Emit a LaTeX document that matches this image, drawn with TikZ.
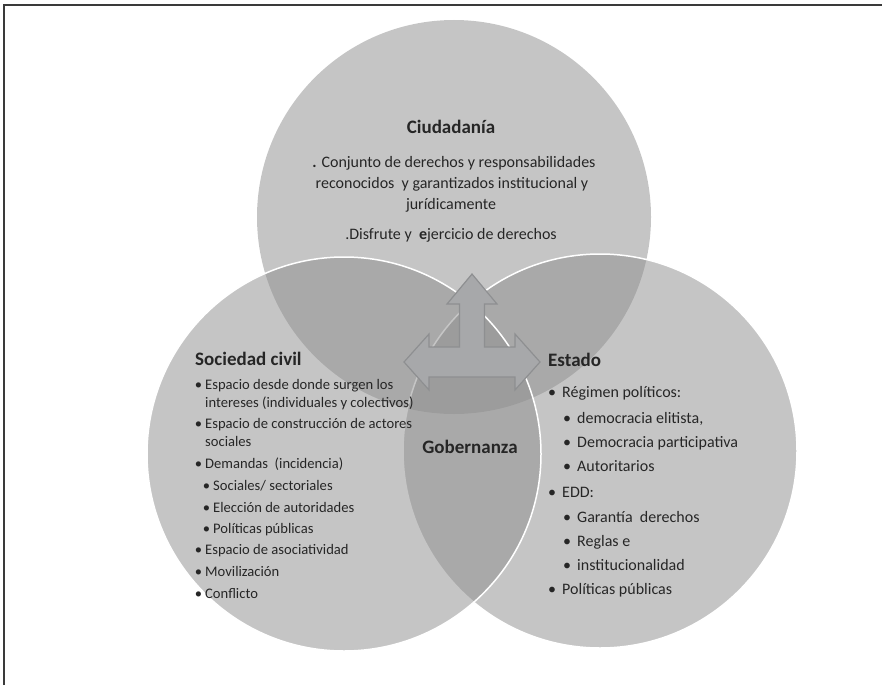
\documentclass[tikz,border=0pt]{standalone}
\usepackage{fontspec}
\setmainfont{Carlito}
\usepackage{xcolor}
\usepackage{tikz}
\usetikzlibrary{positioning}

\definecolor{circulo}{gray}{0.56}
\definecolor{texto}{HTML}{262626}
\definecolor{flecha}{HTML}{A7A8AA}
\definecolor{flechaborde}{HTML}{8E8F91}
\definecolor{marco}{HTML}{3A3A3A}

\newcommand{\vineta}[1]{\llap{\textbullet\hspace{#1}}}

\tikzset{
  conjunto/.style={circle, minimum size=394pt, inner sep=0pt, fill=circulo, fill opacity=0.515},
  titulo/.style={font=\bfseries\fontsize{19}{23}\selectfont, text=texto, inner sep=0pt},
  linea/.style={font=\fontsize{16}{20}\selectfont, text=texto, inner sep=0pt, text height=11pt, text depth=3pt},
  itemsoc/.style={font=\fontsize{14.6}{17}\selectfont, text=texto, inner sep=0pt, anchor=west, text height=10pt, text depth=3pt},
  itemest/.style={font=\fontsize{16}{19}\selectfont, text=texto, inner sep=0pt, anchor=west, text height=11pt, text depth=3pt}
}

\begin{document}
\begin{tikzpicture}[x=1pt, y=-1pt]
    \useasboundingbox (0,0) rectangle (882,685);
    % Frame
    \draw[marco, line width=2pt] (4,685) -- (4,5) -- (882,5);

    % The three sets
    \node[conjunto] (ciud) at (454,217) {};
    \node[conjunto, draw=white, draw opacity=1, line width=1.5pt] (est) at (600,451) {};
    \node[conjunto, draw=white, draw opacity=1, line width=1.5pt] (soc) at (344,454) {};

    % Three-way arrow
    \filldraw[fill=flecha, draw=flechaborde, line width=1.2pt, line join=miter]
        (472,274) -- (497,304) -- (484.5,304) -- (484.5,347) -- (515,347) -- (515,334)
        -- (540,362) -- (515,390) -- (515,377) -- (429,377) -- (429,390)
        -- (404,362) -- (429,334) -- (429,347) -- (459.5,347) -- (459.5,304)
        -- (447,304) -- cycle;

    % Ciudadania
    \node[titulo] (tciud) at (451,127) {Ciudadanía};
    \node[linea] (c1) at (454,163) {\textbf{.} Conjunto de derechos y responsabilidades};
    \node[linea] (c2) at (452,184) {reconocidos \ y garantizados institucional y};
    \node[linea] (c3) at (451,205) {jurídicamente};
    \node[linea] (c4) at (451,235) {.Disfrute y \ \textbf{e}jercicio de derechos};

    % Sociedad civil
    \node[titulo, anchor=west] (tsoc) at (195,359) {Sociedad civil};
    \node[itemsoc] (s1) at (205,386) {\vineta{3pt}Espacio desde donde surgen los};
    \node[itemsoc] (s2) at (205,404) {intereses (individuales y colectivos)};
    \node[itemsoc] (s3) at (205,425) {\vineta{3pt}Espacio de construcción de actores};
    \node[itemsoc] (s4) at (205,443) {sociales};
    \node[itemsoc] (s5) at (205,465) {\vineta{3pt}Demandas \ (incidencia)};
    \node[itemsoc] (s6) at (213,487) {\vineta{3pt}Sociales/ sectoriales};
    \node[itemsoc] (s7) at (213,509) {\vineta{3pt}Elección de autoridades};
    \node[itemsoc] (s8) at (213,530) {\vineta{3pt}Políticas públicas};
    \node[itemsoc] (s9) at (205,551) {\vineta{3pt}Espacio de asociatividad};
    \node[itemsoc] (s10) at (205,573) {\vineta{3pt}Movilización};
    \node[itemsoc] (s11) at (205,595) {\vineta{3pt}Conflicto};

    % Estado
    \node[titulo, anchor=west] (test) at (548,360) {Estado};
    \node[itemest] (e1) at (562,393) {\vineta{6pt}Régimen políticos:};
    \node[itemest] (e2) at (577,419) {\vineta{6pt}democracia elitista,};
    \node[itemest] (e3) at (577,443) {\vineta{6pt}Democracia participativa};
    \node[itemest] (e4) at (577,467) {\vineta{6pt}Autoritarios};
    \node[itemest] (e5) at (562,493) {\vineta{6pt}EDD:};
    \node[itemest] (e6) at (577,518) {\vineta{6pt}Garantía \ derechos};
    \node[itemest] (e7) at (577,542) {\vineta{6pt}Reglas e};
    \node[itemest] (e8) at (577,566) {\vineta{6pt}institucionalidad};
    \node[itemest] (e9) at (562,590) {\vineta{6pt}Políticas públicas};

    % Gobernanza
    \node[titulo] (gob) at (470,447) {Gobernanza};
\end{tikzpicture}
\end{document}
